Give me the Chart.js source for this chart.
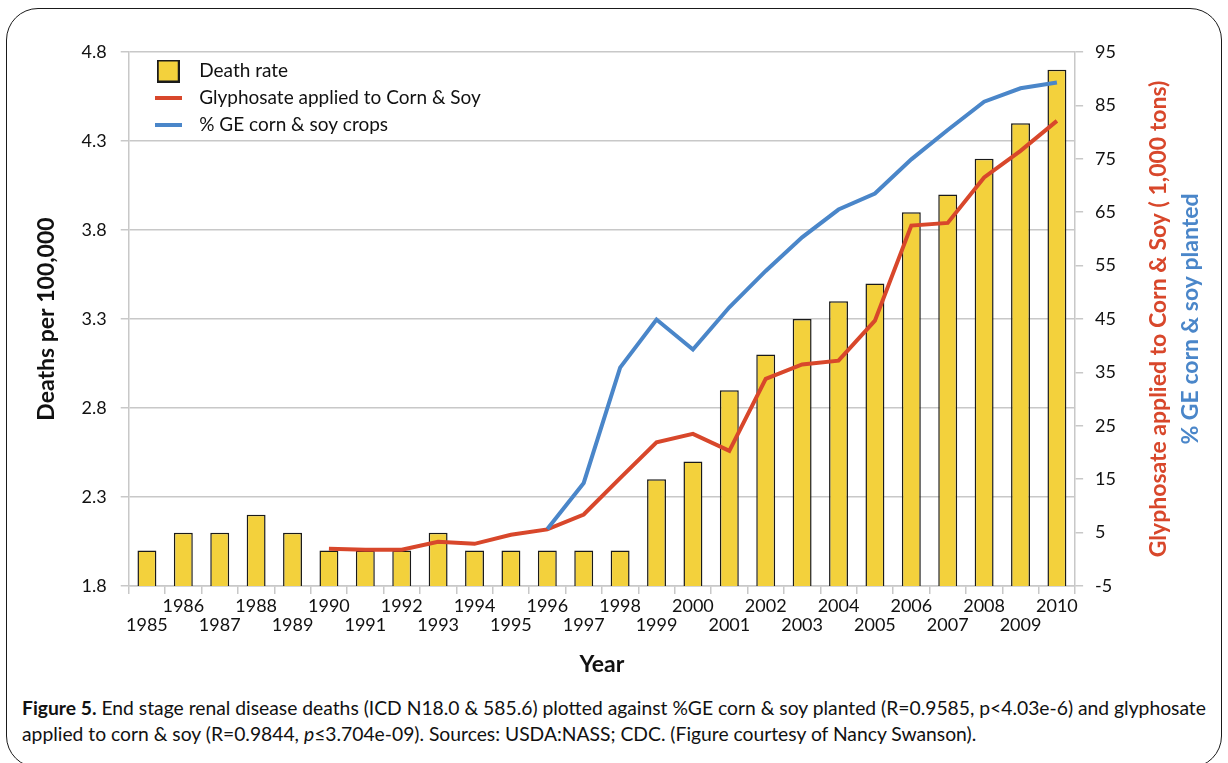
<!DOCTYPE html>
<html>
<head>
<meta charset="utf-8">
<script src="https://cdn.jsdelivr.net/npm/chart.js@4/dist/chart.umd.min.js"></script>
<style>
  html, body { margin: 0; padding: 0; background: #fff; }
  body { width: 1228px; height: 763px; position: relative; overflow: hidden; font-family: Lato, "Open Sans", sans-serif; }
  #frame { position: absolute; left: 6px; top: 8px; width: 1214px; height: 758px; border: 1.5px solid #1a1a1a; border-radius: 32px; }
  #wrap { position: absolute; left: 0; top: 0; width: 1228px; height: 690px; }
  #caption { position: absolute; left: 22px; top: 695px; width: 1205px; font-size: 19.3px; line-height: 26px; color: #111; white-space: nowrap; }
</style>
</head>
<body>
<div id="frame"></div>
<div id="wrap"><canvas id="c"></canvas></div>
<div id="caption"><b>Figure 5.</b> End stage renal disease deaths (ICD N18.0 &amp; 585.6) plotted against %GE corn &amp; soy planted (R=0.9585, p&lt;4.03e-6) and glyphosate<br>applied to corn &amp; soy (R=0.9844, <i>p</i>≤3.704e-09). Sources: USDA:NASS; CDC. (Figure courtesy of Nancy Swanson).</div>
<script>
const years = ['1985','1986','1987','1988','1989','1990','1991','1992','1993','1994','1995','1996','1997','1998','1999','2000','2001','2002','2003','2004','2005','2006','2007','2008','2009','2010'];
const deathRate = [2.0,2.1,2.1,2.2,2.1,2.0,2.0,2.0,2.1,2.0,2.0,2.0,2.0,2.0,2.4,2.5,2.9,3.1,3.3,3.4,3.5,3.9,4.0,4.2,4.4,4.7];
const glyphosate = [null,null,null,null,null,2.0,1.8,1.8,3.3,2.9,4.6,5.6,8.4,15.2,21.9,23.5,20.3,33.8,36.5,37.2,44.7,62.5,63.0,71.5,76.5,82.1];
const geCrops = [null,null,null,null,null,null,null,null,null,null,null,5.7,14.3,35.9,44.9,39.3,47.2,54.0,60.3,65.5,68.5,74.9,80.4,85.7,88.2,89.3];
const leftTicks = [1.8,2.3,2.8,3.3,3.8,4.3,4.8];
const rightTicks = [-5,5,15,25,35,45,55,65,75,85,95];
const seriesNames = ['Death rate','Glyphosate applied to Corn & Soy','% GE corn & soy crops'];
const leftTitle = 'Deaths per 100,000';
const rightTitleRed = 'Glyphosate applied to Corn & Soy ( 1,000 tons)';
const rightTitleBlue = '% GE corn & soy planted';
const xTitle = 'Year';

const YELLOW = '#f3d13c', RED = '#d8472b', BLUE = '#4a86c9', GRID = '#c8c8c8', INK = '#111';

Chart.defaults.font.family = 'Lato, "Open Sans", sans-serif';
Chart.defaults.color = INK;

function glyph(w, h, draw) {
  const c = document.createElement('canvas');
  c.width = w; c.height = h;
  draw(c.getContext('2d'));
  return c;
}
const legendGlyphs = [
  glyph(23, 23, g => { g.fillStyle = YELLOW; g.fillRect(0,0,23,23); g.strokeStyle = '#1a1a1a'; g.lineWidth = 2; g.strokeRect(1,1,21,21); }),
  glyph(27, 4, g => { g.fillStyle = RED; g.fillRect(0,0,27,4); }),
  glyph(27, 4, g => { g.fillStyle = BLUE; g.fillRect(0,0,27,4); })
];

const legendShift = {
  id: 'legendShift',
  beforeDraw(chart) {
    const lg = chart.legend;
    if (lg) { lg.left = chart.chartArea.left + 10; lg.top = chart.chartArea.top + 1.5; }
  }
};
const rightTitles = {
  id: 'rightTitles',
  afterDraw(chart) {
    const {ctx, chartArea} = chart;
    const cy = (chartArea.top + chartArea.bottom) / 2;
    ctx.save();
    ctx.font = 'bold 23px Lato, "Open Sans", sans-serif';
    ctx.textAlign = 'center';
    ctx.textBaseline = 'middle';
    [[rightTitleRed, RED, chartArea.right + 83], [rightTitleBlue, BLUE, chartArea.right + 115]].forEach(([t, col, x]) => {
      ctx.save();
      ctx.translate(x, cy);
      ctx.rotate(-Math.PI / 2);
      ctx.fillStyle = col;
      ctx.fillText(t, 0, 0);
      ctx.restore();
    });
    ctx.restore();
  }
};

new Chart(document.getElementById('c'), {
  data: {
    labels: years,
    datasets: [
      { type: 'bar', label: seriesNames[0], data: deathRate, yAxisID: 'y', backgroundColor: YELLOW, borderColor: '#1a1a1a', borderWidth: 1.5, barPercentage: 0.52, categoryPercentage: 1, order: 3 },
      { type: 'line', label: seriesNames[1], data: glyphosate, yAxisID: 'y1', borderColor: RED, backgroundColor: RED, borderWidth: 4, pointRadius: 0, tension: 0, order: 2 },
      { type: 'line', label: seriesNames[2], data: geCrops, yAxisID: 'y1', borderColor: BLUE, backgroundColor: BLUE, borderWidth: 4, pointRadius: 0, tension: 0, order: 1 }
    ]
  },
  options: {
    responsive: true,
    maintainAspectRatio: false,
    animation: false,
    layout: { padding: { left: 33, right: 100, top: 52, bottom: 8 } },
    plugins: {
      tooltip: { enabled: false },
      legend: {
        position: 'chartArea',
        align: 'start',
        labels: {
          usePointStyle: true,
          pointStyleWidth: 43,
          padding: 8,
          color: INK,
          font: { size: 19 },
          sort: (a, b) => a.datasetIndex - b.datasetIndex,
          generateLabels(chart) {
            const items = Chart.defaults.plugins.legend.labels.generateLabels(chart);
            items.forEach(it => { it.pointStyle = legendGlyphs[it.datasetIndex]; });
            return items;
          }
        }
      }
    },
    scales: {
      x: {
        type: 'category',
        offset: true,
        grid: { display: true, offset: true, drawOnChartArea: false, drawTicks: true, tickLength: 8, color: GRID, lineWidth: 1.5 },
        border: { display: true, color: GRID, width: 1.5 },
        ticks: {
          autoSkip: false, maxRotation: 0, minRotation: 0, padding: 3,
          font: { size: 18, lineHeight: 1.06 }, color: INK,
          callback: function(v, i) { const lab = years[i]; return (parseInt(lab) % 2 === 0) ? [lab] : ['', lab]; }
        },
        title: { display: true, text: xTitle, font: { size: 23, weight: 'bold' }, color: INK, padding: { top: 13, bottom: 3.2 } }
      },
      y: {
        position: 'left',
        min: 1.8, max: 4.8,
        afterBuildTicks: s => { s.ticks = leftTicks.map(v => ({ value: v })); },
        grid: { color: GRID, lineWidth: 1.5, tickLength: 8 },
        border: { display: true, color: GRID, width: 1.5 },
        ticks: { padding: 14, font: { size: 18 }, color: INK, callback: v => Number(v).toFixed(1) },
        title: { display: true, text: leftTitle, font: { size: 23, weight: 'bold' }, color: INK, padding: { top: 0, bottom: 7 } }
      },
      y1: {
        position: 'right',
        min: -5, max: 95,
        afterBuildTicks: s => { s.ticks = rightTicks.map(v => ({ value: v })); },
        grid: { drawOnChartArea: false, color: GRID, lineWidth: 1.5, tickLength: 8 },
        border: { display: true, color: GRID, width: 1.5 },
        ticks: { padding: 12, font: { size: 18 }, color: INK, callback: v => String(v) }
      }
    }
  },
  plugins: [legendShift, rightTitles]
});
</script>
</body>
</html>
